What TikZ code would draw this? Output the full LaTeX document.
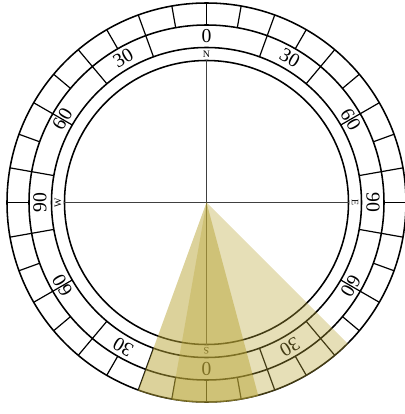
\documentclass[tikz,border=0pt]{standalone}
\usepackage{fontspec}
\setmainfont{Liberation Serif}
\definecolor{wedgecol}{RGB}{185,165,55}
\begin{document}
\begin{tikzpicture}[x=0.025cm,y=0.025cm,
  ring/.style={line width=1.1pt},
  tickline/.style={line width=0.85pt},
  axisline/.style={line width=0.6pt, black!75},
  lab/.style={font=\fontsize{14}{14}\selectfont, inner sep=0pt},
  dirlab/.style={font=\fontsize{7}{7}\selectfont, inner sep=0pt},
  wedgeA/.style={fill=wedgecol, fill opacity=0.36},
  wedgeB/.style={fill=wedgecol, fill opacity=0.5}]
\useasboundingbox (-206.5,-211.5) rectangle (198.5,202.5);
\coordinate (c) at (0,0);
% circles
\foreach \r in {199.5,177.5,155,142} \draw[ring] (c) circle[radius=\r];
% ticks every 10 degrees in outer ring
\foreach \b in {0,10,...,350} \draw[tickline] ({90-\b}:177.5) -- ({90-\b}:199.5);
% dividers in label ring
\foreach \b in {20,40,60,80,100,120,140,160,200,220,240,260,280,300,320,340}
  \draw[tickline] ({90-\b}:155) -- ({90-\b}:177.5);
% axes
\coordinate (n) at (90:142);
\coordinate (s) at (-90:142);
\coordinate (e) at (0:142);
\coordinate (w) at (180:142);
\draw[axisline] (n) -- (s);
\draw[axisline] (w) -- (e);
% degree labels
\foreach \b/\t in {0/0,30/30,90/90,150/30,180/0,210/30,270/90,330/30}
  \node[lab, rotate=-\b] (l\b) at ({90-\b}:166.5) {\t};
\foreach \b in {60,120,240,300}
  \node[lab, rotate=-\b] (l\b) at ({90-\b}:166.5) {6\kern1.5pt0};
% direction letters
\foreach \b/\t in {0/N,90/E,180/S,270/W}
  \node[dirlab, rotate=-\b] (d\t) at ({90-\b}:148.5) {\t};
% shaded wedges
\fill[wedgeA] (c) -- (-45:200.2) arc[start angle=-45, end angle=-100, radius=200.2] -- cycle;
\fill[wedgeB] (c) -- (-75:200.2) arc[start angle=-75, end angle=-110, radius=200.2] -- cycle;
\end{tikzpicture}
\end{document}
